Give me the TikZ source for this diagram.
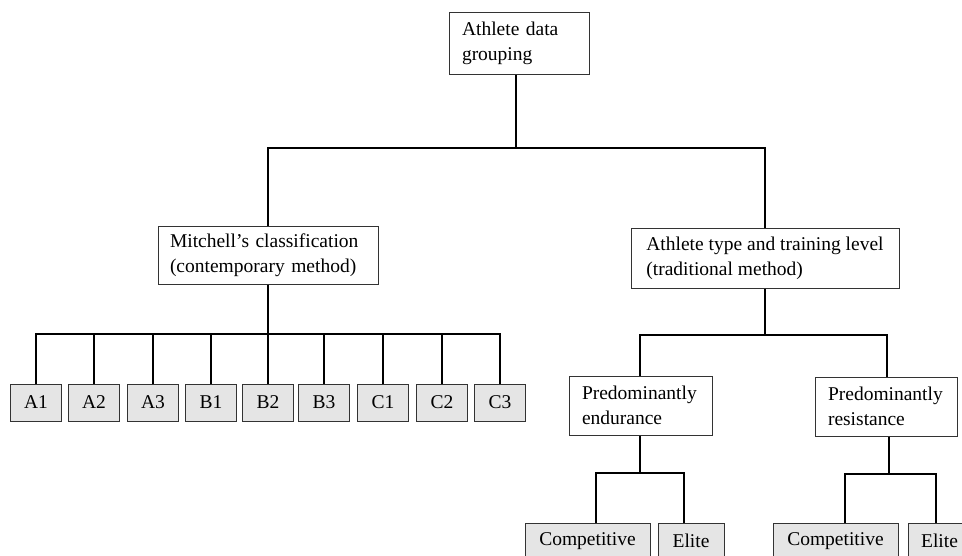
\documentclass[tikz,border=0pt]{standalone}
\usepackage{fontspec}
\setmainfont{Liberation Serif}
\begin{document}
\begin{tikzpicture}[x=1pt,y=-1pt,
  every node/.style={font=\fontsize{19.5}{25}\selectfont},
  bigbox/.style={draw=black!80, line width=1pt, fill=white, align=left, inner xsep=13pt, inner ysep=0pt},
  leaf/.style={draw=black!80, line width=1pt, fill=gray!20, inner sep=0pt, align=center, minimum height=37pt},
  bleaf/.style={leaf, minimum height=36pt},
  conn/.style={line width=2pt, black}]
\useasboundingbox (0,0) rectangle (962,555);
\clip (0,0) rectangle (962,555);

% main boxes
\node[bigbox, text width=114pt, minimum height=62pt] (top) at (519,43) {Athlete data\\grouping};
\node[bigbox, inner xsep=12pt, text width=196pt, minimum height=58pt] (mit) at (268,255) {Mitchell's classification\\(contemporary method)};
\node[bigbox, inner xsep=0pt, minimum width=268pt, minimum height=60pt] (ath) at (765,258) {Athlete type and training level\\(traditional method)};
\node[bigbox, text width=117pt, minimum height=59pt] (end) at (640.5,405.5) {Predominantly\\endurance};
\node[bigbox, text width=116pt, minimum height=59pt] (res) at (886,406.5) {Predominantly\\resistance};

% Mitchell leaves
\foreach \n/\x in {A1/36,A2/94,A3/153,B1/211,B2/268,B3/324,C1/383,C2/442,C3/500}
  \node[leaf, minimum width=51pt] (\n) at (\x,402.5) {\n};

% bottom leaves
\node[bleaf, minimum width=125pt] (comp1) at (587.5,541) {Competitive};
\node[bleaf, minimum width=66pt] (el1) at (691,541) {Elite};
\node[bleaf, minimum width=125pt] (comp2) at (835.5,541) {Competitive};
\node[bleaf, minimum width=63pt] (el2) at (939.5,541) {Elite};

% connectors: top level
\draw[conn] ([xshift=-3pt]top.south) -- ([xshift=-3pt]top.south |- 0,148) coordinate (b0);
\draw[conn] (mit.north) |- (b0) -| (ath.north);

% Mitchell bus
\draw[conn] (mit.south) -- (mit.south |- 0,334);
\draw[conn] (A1.north) |- (C3.north |- 0,334) -- (C3.north);
\foreach \n in {A2,A3,B1,B2,B3,C1,C2}
  \draw[conn] (\n.north) -- (\n.north |- 0,334);

% traditional method bus
\draw[conn] (ath.south) -- (ath.south |- 0,335);
\draw[conn] ([xshift=-0.5pt]end.north) |- ([xshift=1pt]res.north |- 0,335) -- ([xshift=1pt]res.north);

% endurance bus
\draw[conn] ([xshift=-0.5pt]end.south) -- ([xshift=-0.5pt]end.south |- 0,473);
\draw[conn] ([xshift=8.5pt]comp1.north) |- ([xshift=-7pt]el1.north |- 0,473) -- ([xshift=-7pt]el1.north);

% resistance bus
\draw[conn] ([xshift=3pt]res.south) -- ([xshift=3pt]res.south |- 0,474);
\draw[conn] ([xshift=9.5pt]comp2.north) |- ([xshift=-3.5pt]el2.north |- 0,474) -- ([xshift=-3.5pt]el2.north);
\end{tikzpicture}
\end{document}
